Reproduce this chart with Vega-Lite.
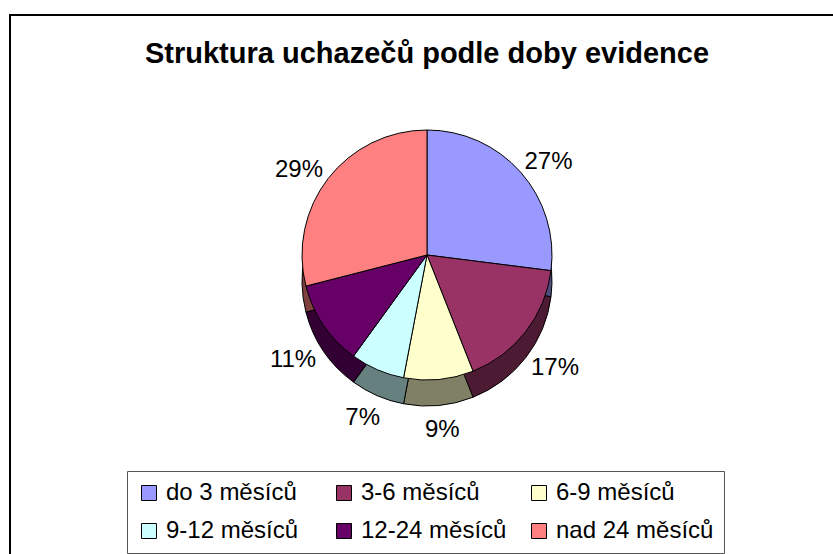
{
  "$schema": "https://vega.github.io/schema/vega-lite/v6.json",
  "autosize": "none",
  "width": 834,
  "height": 560,
  "padding": {"left": 10, "top": 15, "right": 0, "bottom": 0},
  "background": "white",
  "view": {"stroke": "black", "strokeWidth": 2, "fill": "white"},
  "config": {"font": "Liberation Sans"},
  "title": {"text": "Struktura uchazečů podle doby evidence", "fontSize": 29, "fontWeight": "bold", "font": "Liberation Sans", "anchor": "middle", "offset": -54, "color": "black"},
  "data": {"values": [
    {"kategorie": "do 3 měsíců", "podil": 0.27, "poradi": 1},
    {"kategorie": "3-6 měsíců", "podil": 0.17, "poradi": 2},
    {"kategorie": "6-9 měsíců", "podil": 0.09, "poradi": 3},
    {"kategorie": "9-12 měsíců", "podil": 0.07, "poradi": 4},
    {"kategorie": "12-24 měsíců", "podil": 0.11, "poradi": 5},
    {"kategorie": "nad 24 měsíců", "podil": 0.29, "poradi": 6}
  ]},
  "encoding": {
    "theta": {"field": "podil", "type": "quantitative", "stack": true},
    "order": {"field": "poradi", "type": "quantitative"}
  },
  "layer": [
    {
      "mark": {"type": "arc", "outerRadius": 125, "yOffset": -14, "stroke": "black", "strokeWidth": 1},
      "encoding": {"color": {"field": "kategorie", "type": "nominal",
        "scale": {"domain": ["do 3 měsíců", "3-6 měsíců", "6-9 měsíců", "9-12 měsíců", "12-24 měsíců", "nad 24 měsíců"],
                  "range": ["#4d4d80", "#4d1a33", "#808066", "#668080", "#330033", "#804040"]},
        "legend": null}}
    },
    {
      "mark": {"type": "arc", "outerRadius": 125, "yOffset": -40, "stroke": "black", "strokeWidth": 1},
      "encoding": {"color": {"field": "kategorie", "type": "nominal",
        "scale": {"domain": ["do 3 měsíců", "3-6 měsíců", "6-9 měsíců", "9-12 měsíců", "12-24 měsíců", "nad 24 měsíců"],
                  "range": ["#9999ff", "#993366", "#ffffcc", "#ccffff", "#660066", "#ff8080"]},
        "legend": {"orient": "none", "legendX": 117, "legendY": 456, "direction": "horizontal", "columns": 3, "title": null,
          "symbolType": "square", "symbolSize": 225, "symbolStrokeColor": "black", "symbolStrokeWidth": 1, "symbolOpacity": 1,
          "labelFontSize": 24, "labelFont": "Liberation Sans", "labelColor": "black", "labelLimit": 400, "labelOffset": 5,
          "strokeColor": "#555555", "padding": 10, "columnPadding": 8, "rowPadding": 14, "gridAlign": "all"}}}
    },
    {
      "mark": {"type": "text", "radius": 162, "yOffset": -26, "fontSize": 24, "font": "Liberation Sans", "color": "black"},
      "encoding": {"text": {"field": "podil", "type": "quantitative", "format": ".0%"}}
    }
  ],
  "resolve": {"scale": {"color": "independent"}}
}
